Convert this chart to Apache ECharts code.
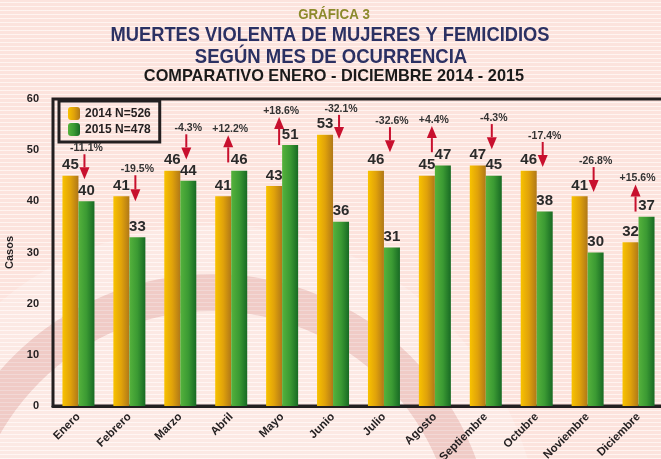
<!DOCTYPE html>
<html>
<head>
<meta charset="utf-8">
<script src="https://cdn.jsdelivr.net/npm/echarts@6/dist/echarts.min.js"></script>
<style>
html,body{margin:0;padding:0;}
body{
  width:661px;height:459px;overflow:hidden;
  background-color:#fce3dd;
  background-image:repeating-linear-gradient(to bottom, rgba(255,255,255,0) 0px, rgba(255,255,255,0) 2px, rgba(255,246,243,0.9) 2px, rgba(255,246,243,0.9) 3px, rgba(255,255,255,0) 3px, rgba(255,255,255,0) 4px);
}
#chart{width:661px;height:459px;}
</style>
</head>
<body>
<div id="chart"></div>
<script>
const months = ['Enero','Febrero','Marzo','Abril','Mayo','Junio','Julio','Agosto','Septiembre','Octubre','Noviembre','Diciembre'];
const seriesNames = ['2014 N=526','2015 N=478'];
const values2014 = [45,41,46,41,43,53,46,45,47,46,41,32];
const values2015 = [40,33,44,46,51,36,31,47,45,38,30,37];
const pctLabels = ['-11.1%','-19.5%','-4.3%','+12.2%','+18.6%','-32.1%','-32.6%','+4.4%','-4.3%','-17.4%','-26.8%','+15.6%'];
const arrowFrom = [49.2,45.1,53.1,47.6,51.0,56.9,54.5,49.6,55.1,51.6,46.7,38.0];
const arrowTo   = [44.3,40.0,48.2,52.9,56.5,52.2,49.6,54.7,50.2,46.7,41.8,43.3];
const yMin = 0, yMax = 60, yStep = 10;
const titles = ['GRÁFICA 3','MUERTES VIOLENTA DE MUJERES Y FEMICIDIOS','SEGÚN MES DE OCURRENCIA','COMPARATIVO ENERO - DICIEMBRE 2014 - 2015'];

const sans = '"Liberation Sans", Arial, sans-serif';
const ink = '#231f20';

const yellowGrad = new echarts.graphic.LinearGradient(0,0,1,0,[
  {offset:0,color:'#f8c200'},{offset:0.5,color:'#e0a20a'},{offset:1,color:'#b07818'}]);
const greenGrad = new echarts.graphic.LinearGradient(0,0,1,0,[
  {offset:0,color:'#55b23c'},{offset:0.5,color:'#3b9a33'},{offset:1,color:'#186a24'}]);

const arrowData = months.map((m,i)=>[i, arrowFrom[i], arrowTo[i]]);

function titleText(text, x, y, size, color, sx){
  return {type:'text', x:x, y:y, scaleX:sx, z:10, silent:true,
    style:{text:text, align:'center', verticalAlign:'middle', font:'bold ' + size + 'px ' + sans, fill:color}};
}

const chart = echarts.init(document.getElementById('chart'), null, {renderer:'canvas'});
chart.setOption({
  backgroundColor:'transparent',
  animation:false,
  graphic:[
    {type:'ring', z:-10, silent:true, shape:{cx:212, cy:555, r:330, r0:281}, style:{fill:'rgba(255,255,255,0.22)'}},
    {type:'ring', z:-10, silent:true, shape:{cx:212, cy:555, r:281, r0:244}, style:{fill:'rgba(205,130,130,0.25)'}},
    {type:'circle', z:-10, silent:true, shape:{cx:212, cy:555, r:244}, style:{fill:'rgba(255,255,255,0.22)'}},
    titleText(titles[0], 334, 15.5, 14, '#8c8a2c', 0.95),
    titleText(titles[1], 330, 35, 20, '#2b3163', 0.915),
    titleText(titles[2], 331, 57, 20, '#2b3163', 0.925),
    titleText(titles[3], 334, 76, 17, '#1a1a1a', 0.96)
  ],
  legend:{
    data:seriesNames, orient:'vertical', left:59, top:101,
    padding:[6,9,6,9], itemGap:3, itemWidth:12, itemHeight:13,
    borderColor:ink, borderWidth:3,
    textStyle:{fontFamily:sans, fontSize:12, fontWeight:'bold', color:ink}
  },
  grid:{left:53, top:99, width:611, bottom:53, outerBoundsMode:'none', containLabel:false,
    show:true, borderColor:ink, borderWidth:3, backgroundColor:'transparent'},
  xAxis:{
    type:'category', data:months,
    axisLine:{lineStyle:{color:ink, width:3}},
    axisTick:{length:6, lineStyle:{color:ink, width:2}},
    axisLabel:{rotate:45, margin:9, fontFamily:sans, fontSize:11.5, fontWeight:'bold', color:ink, interval:0}
  },
  yAxis:{
    type:'value', min:yMin, max:yMax, interval:yStep,
    name:'Casos', nameLocation:'middle', nameRotate:90, nameGap:36,
    nameTextStyle:{fontFamily:sans, fontSize:11, fontWeight:'bold', color:ink},
    axisLine:{show:true, lineStyle:{color:ink, width:2}},
    axisTick:{show:false},
    splitLine:{show:false},
    axisLabel:{margin:14, fontFamily:sans, fontSize:11, fontWeight:'bold', color:ink}
  },
  series:[
    {name:seriesNames[0], type:'bar', data:values2014, barWidth:16, barGap:'0%',
      itemStyle:{color:yellowGrad},
      label:{show:true, position:'top', distance:3, fontFamily:sans, fontSize:15, fontWeight:'bold', color:'#2a2a2a'}},
    {name:seriesNames[1], type:'bar', data:values2015, barWidth:16, barGap:'0%',
      itemStyle:{color:greenGrad},
      label:{show:true, position:'top', distance:3, fontFamily:sans, fontSize:15, fontWeight:'bold', color:'#2a2a2a'}},
    {name:'arrows', type:'custom', data:arrowData, encode:{x:0, y:[1,2]}, z:5, clip:false,
      renderItem:function(params, api){
        const i = api.value(0);
        const from = api.value(1), to = api.value(2);
        const p1 = api.coord([i, from]);
        const p2 = api.coord([i, to]);
        const up = to > from;
        const x = p1[0] + (up ? -3 : 6);
        const headH = 12, headW = 10;
        const dir = up ? -1 : 1;
        const shaftEnd = p2[1] - dir*headH;
        const topY = Math.min(p1[1], p2[1]);
        const red = '#c8102e';
        return {type:'group', children:[
          {type:'line', shape:{x1:x, y1:p1[1], x2:x, y2:shaftEnd}, style:{stroke:red, lineWidth:2}},
          {type:'polygon', shape:{points:[[x-headW/2, shaftEnd],[x+headW/2, shaftEnd],[x, p2[1]]]}, style:{fill:red}},
          {type:'text', style:{text:pctLabels[i], x:x+2, y:topY-6, align:'center', verticalAlign:'middle',
            font:'bold 10.5px ' + sans, fill:'#333333'}}
        ]};
      }
    }
  ]
});
</script>
</body>
</html>
